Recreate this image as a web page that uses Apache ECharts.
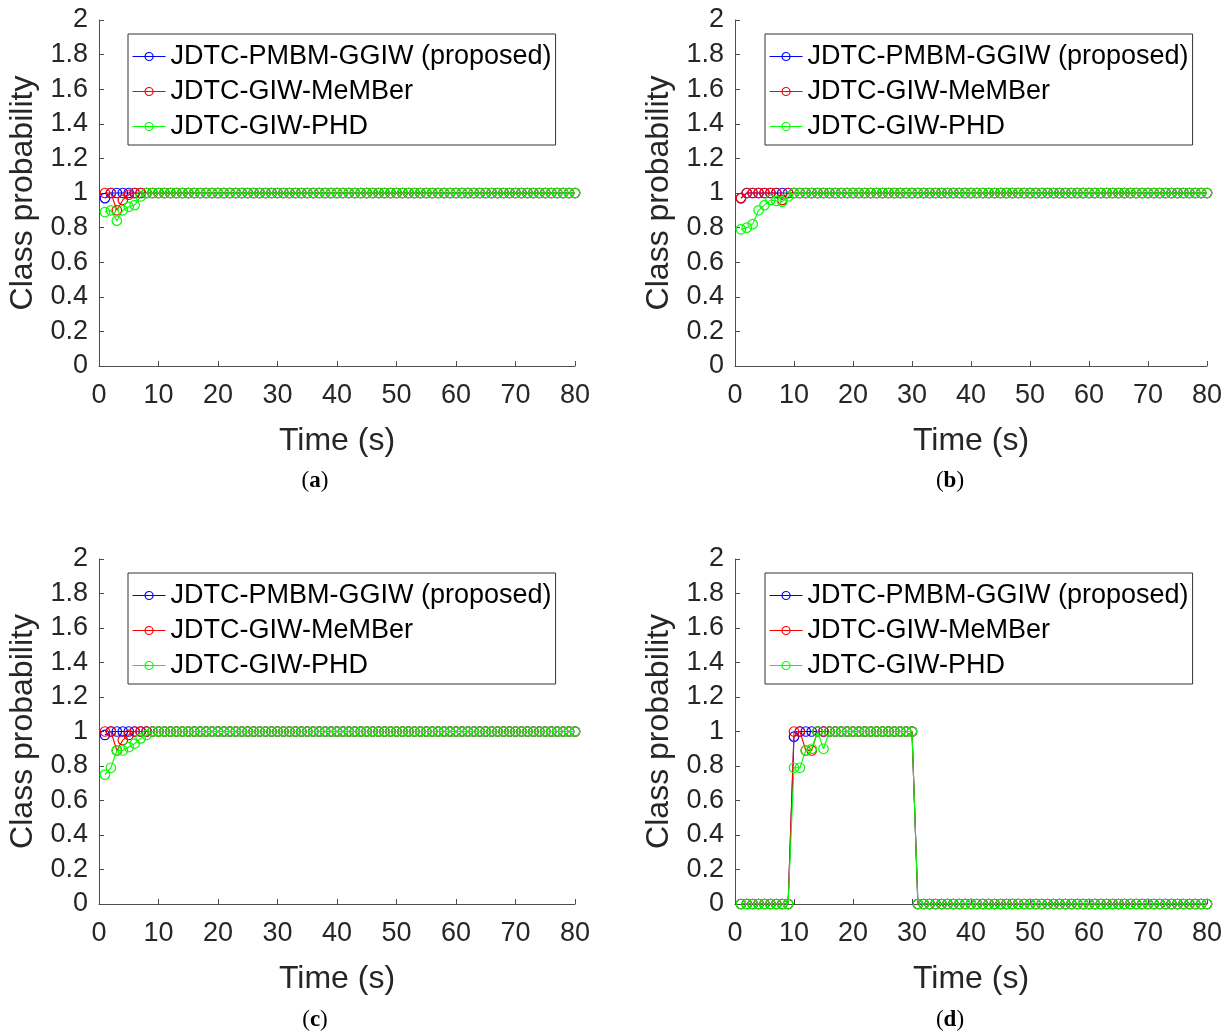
<!DOCTYPE html>
<html>
<head>
<meta charset="utf-8">
<script src="https://cdn.jsdelivr.net/npm/echarts@6/dist/echarts.min.js"></script>
<style>
html,body{margin:0;padding:0;background:#fff;}
#chart{width:1231px;height:1035px;}
</style>
</head>
<body>
<div id="chart"></div>
<script>
// ---- data ----
var seriesNames = ['JDTC-PMBM-GGIW (proposed)', 'JDTC-GIW-MeMBer', 'JDTC-GIW-PHD'];
var seriesColors = ['#0000ff', '#ff0000', '#00ff00'];
var panelCaptions = ['a', 'b', 'c', 'd'];
var xTicks = [0, 10, 20, 30, 40, 50, 60, 70, 80];
var yTicks = [0, 0.2, 0.4, 0.6, 0.8, 1, 1.2, 1.4, 1.6, 1.8, 2];

var timeSteps = [
 1, 2, 3, 4, 5, 6, 7, 8, 9,10,
11,12,13,14,15,16,17,18,19,20,
21,22,23,24,25,26,27,28,29,30,
31,32,33,34,35,36,37,38,39,40,
41,42,43,44,45,46,47,48,49,50,
51,52,53,54,55,56,57,58,59,60,
61,62,63,64,65,66,67,68,69,70,
71,72,73,74,75,76,77,78,79,80];

// panel (a)
var blueA = [
0.97,1,1,1,1,1,1,1,1,1,
1,1,1,1,1,1,1,1,1,1,
1,1,1,1,1,1,1,1,1,1,
1,1,1,1,1,1,1,1,1,1,
1,1,1,1,1,1,1,1,1,1,
1,1,1,1,1,1,1,1,1,1,
1,1,1,1,1,1,1,1,1,1,
1,1,1,1,1,1,1,1,1,1];
var redA = [
1,1,0.90,0.96,0.99,1,1,1,1,1,
1,1,1,1,1,1,1,1,1,1,
1,1,1,1,1,1,1,1,1,1,
1,1,1,1,1,1,1,1,1,1,
1,1,1,1,1,1,1,1,1,1,
1,1,1,1,1,1,1,1,1,1,
1,1,1,1,1,1,1,1,1,1,
1,1,1,1,1,1,1,1,1,1];
var greenA = [
0.89,0.90,0.84,0.90,0.92,0.93,0.98,1,1,1,
1,1,1,1,1,1,1,1,1,1,
1,1,1,1,1,1,1,1,1,1,
1,1,1,1,1,1,1,1,1,1,
1,1,1,1,1,1,1,1,1,1,
1,1,1,1,1,1,1,1,1,1,
1,1,1,1,1,1,1,1,1,1,
1,1,1,1,1,1,1,1,1,1];

// panel (b)
var blueB = [
0.97,1,1,1,1,1,1,1,1,1,
1,1,1,1,1,1,1,1,1,1,
1,1,1,1,1,1,1,1,1,1,
1,1,1,1,1,1,1,1,1,1,
1,1,1,1,1,1,1,1,1,1,
1,1,1,1,1,1,1,1,1,1,
1,1,1,1,1,1,1,1,1,1,
1,1,1,1,1,1,1,1,1,1];
var redB = [
0.97,1,1,1,1,1,1,0.96,1,1,
1,1,1,1,1,1,1,1,1,1,
1,1,1,1,1,1,1,1,1,1,
1,1,1,1,1,1,1,1,1,1,
1,1,1,1,1,1,1,1,1,1,
1,1,1,1,1,1,1,1,1,1,
1,1,1,1,1,1,1,1,1,1,
1,1,1,1,1,1,1,1,1,1];
var greenB = [
0.79,0.80,0.82,0.90,0.93,0.96,0.955,0.95,0.98,1,
1,1,1,1,1,1,1,1,1,1,
1,1,1,1,1,1,1,1,1,1,
1,1,1,1,1,1,1,1,1,1,
1,1,1,1,1,1,1,1,1,1,
1,1,1,1,1,1,1,1,1,1,
1,1,1,1,1,1,1,1,1,1,
1,1,1,1,1,1,1,1,1,1];

// panel (c)
var blueC = [
0.98,1,1,1,1,1,1,1,1,1,
1,1,1,1,1,1,1,1,1,1,
1,1,1,1,1,1,1,1,1,1,
1,1,1,1,1,1,1,1,1,1,
1,1,1,1,1,1,1,1,1,1,
1,1,1,1,1,1,1,1,1,1,
1,1,1,1,1,1,1,1,1,1,
1,1,1,1,1,1,1,1,1,1];
var redC = [
1,1,0.89,0.95,0.98,1,1,1,1,1,
1,1,1,1,1,1,1,1,1,1,
1,1,1,1,1,1,1,1,1,1,
1,1,1,1,1,1,1,1,1,1,
1,1,1,1,1,1,1,1,1,1,
1,1,1,1,1,1,1,1,1,1,
1,1,1,1,1,1,1,1,1,1,
1,1,1,1,1,1,1,1,1,1];
var greenC = [
0.75,0.79,0.89,0.89,0.91,0.93,0.96,0.98,1,1,
1,1,1,1,1,1,1,1,1,1,
1,1,1,1,1,1,1,1,1,1,
1,1,1,1,1,1,1,1,1,1,
1,1,1,1,1,1,1,1,1,1,
1,1,1,1,1,1,1,1,1,1,
1,1,1,1,1,1,1,1,1,1,
1,1,1,1,1,1,1,1,1,1];

// panel (d)
var blueD = [
0,0,0,0,0,0,0,0,0,0.97,
1,1,1,1,1,1,1,1,1,1,
1,1,1,1,1,1,1,1,1,1,
0,0,0,0,0,0,0,0,0,0,
0,0,0,0,0,0,0,0,0,0,
0,0,0,0,0,0,0,0,0,0,
0,0,0,0,0,0,0,0,0,0,
0,0,0,0,0,0,0,0,0,0];
var redD = [
0,0,0,0,0,0,0,0,0,1,
1,0.89,0.89,1,1,1,1,1,1,1,
1,1,1,1,1,1,1,1,1,1,
0,0,0,0,0,0,0,0,0,0,
0,0,0,0,0,0,0,0,0,0,
0,0,0,0,0,0,0,0,0,0,
0,0,0,0,0,0,0,0,0,0,
0,0,0,0,0,0,0,0,0,0];
var greenD = [
0,0,0,0,0,0,0,0,0,0.79,
0.79,0.89,0.90,1,0.90,1,1,1,1,1,
1,1,1,1,1,1,1,1,1,1,
0,0,0,0,0,0,0,0,0,0,
0,0,0,0,0,0,0,0,0,0,
0,0,0,0,0,0,0,0,0,0,
0,0,0,0,0,0,0,0,0,0,
0,0,0,0,0,0,0,0,0,0];

var panelData = [
  [blueA, redA, greenA],
  [blueB, redB, greenB],
  [blueC, redC, greenC],
  [blueD, redD, greenD]
];

// ---- layout ----
var FONT = 'Liberation Sans, Arial, Helvetica, sans-serif';
var grids = [
  {left: 99, top: 20, width: 476, height: 346},
  {left: 735, top: 20, width: 472, height: 346},
  {left: 99, top: 559, width: 476, height: 345},
  {left: 735, top: 559, width: 472, height: 345}
];
var legendPos = [
  {left: 128, top: 34},
  {left: 765, top: 34},
  {left: 128, top: 573},
  {left: 765, top: 573}
];
var captionPos = [
  {x: 315, y: 481}, {x: 950, y: 481}, {x: 315, y: 1020}, {x: 950, y: 1020}
];

function zip(t, v) {
  var out = [];
  for (var i = 0; i < t.length; i++) out.push([t[i], v[i]]);
  return out;
}

var option = {
  animation: false,
  backgroundColor: '#ffffff',
  grid: [], xAxis: [], yAxis: [], series: [], legend: [], graphic: []
};

var axisColor = '#4d4d4d';
grids.forEach(function (g, p) {
  option.grid.push({left: g.left, top: g.top, width: g.width, height: g.height, containLabel: false});
  option.xAxis.push({
    type: 'value', gridIndex: p, min: xTicks[0], max: xTicks[xTicks.length - 1], interval: 10,
    name: 'Time (s)', nameLocation: 'middle', nameGap: 59,
    nameTextStyle: {fontFamily: FONT, fontSize: 32, color: '#262626'},
    axisLine: {show: true, onZero: false, lineStyle: {color: axisColor, width: 1}},
    axisTick: {show: true, inside: true, length: 5, lineStyle: {color: axisColor}},
    axisLabel: {fontFamily: FONT, fontSize: 27, color: '#262626', margin: 16},
    splitLine: {show: false}
  });
  option.yAxis.push({
    type: 'value', gridIndex: p, min: yTicks[0], max: yTicks[yTicks.length - 1], interval: 0.2,
    name: 'Class probability', nameLocation: 'middle', nameGap: 60,
    nameTextStyle: {fontFamily: FONT, fontSize: 32, color: '#262626'},
    axisLine: {show: true, onZero: false, lineStyle: {color: axisColor, width: 1}},
    axisTick: {show: true, inside: true, length: 5, lineStyle: {color: axisColor}},
    axisLabel: {fontFamily: FONT, fontSize: 27, color: '#262626', margin: 11},
    splitLine: {show: false}
  });
  panelData[p].forEach(function (vals, s) {
    option.series.push({
      name: seriesNames[s], type: 'line', xAxisIndex: p, yAxisIndex: p,
      data: zip(timeSteps, vals),
      symbol: 'circle', symbolSize: 9.5, showSymbol: true, showAllSymbol: true,
      itemStyle: {color: 'rgba(0,0,0,0)', borderColor: seriesColors[s], borderWidth: 1.2},
      lineStyle: {color: seriesColors[s], width: 1.1},
      z: 2 + s
    });
  });
  option.legend.push({
    left: legendPos[p].left, top: legendPos[p].top, orient: 'vertical',
    backgroundColor: '#ffffff', borderColor: '#333333', borderWidth: 1,
    padding: [9, 4, 5, 4], itemGap: 8, itemWidth: 33, itemHeight: 10,
    textStyle: {fontFamily: FONT, fontSize: 27, color: '#000000'},
    selectedMode: false,
    data: seriesNames.map(function (n, s) {
      return {name: n, itemStyle: {color: 'rgba(0,0,0,0)', borderColor: seriesColors[s], borderWidth: 1.2},
              lineStyle: {color: seriesColors[s], width: 1.1}};
    })
  });
  option.graphic.push({
    type: 'text', x: captionPos[p].x, y: captionPos[p].y,
    style: {
      text: '{n|(}{b|' + panelCaptions[p] + '}{n|)}',
      rich: {
        n: {fontFamily: 'Liberation Serif, Times New Roman, serif', fontSize: 23, color: '#000'},
        b: {fontFamily: 'Liberation Serif, Times New Roman, serif', fontSize: 23, fontWeight: 'bold', color: '#000'}
      },
      align: 'center', verticalAlign: 'middle'
    }
  });
});

var chart = echarts.init(document.getElementById('chart'), null, {renderer: 'canvas'});
chart.setOption(option);
</script>
</body>
</html>
